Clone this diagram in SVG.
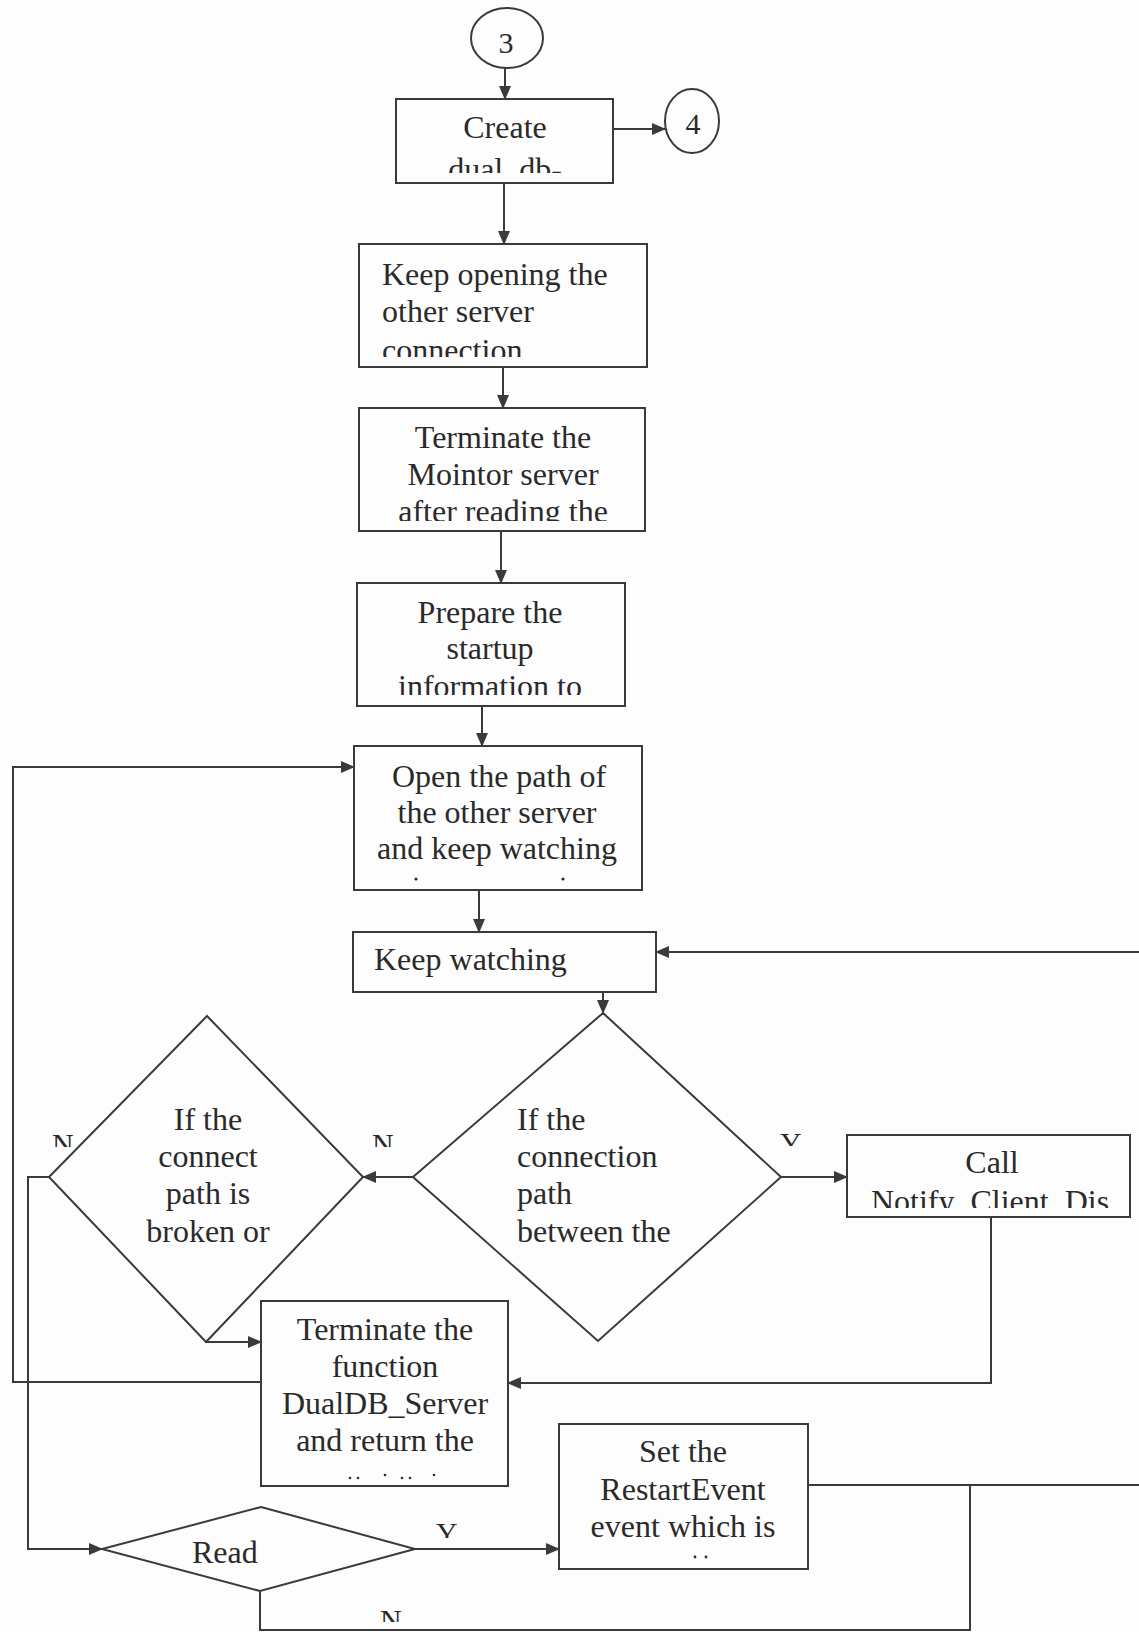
<svg xmlns="http://www.w3.org/2000/svg" width="1139" height="1632" viewBox="0 0 1139 1632">
  <style>
    .box { fill: none; stroke: #3a3a3a; stroke-width: 2; }
    .edge { fill: none; stroke: #3a3a3a; stroke-width: 2; }
    .t { font-family: "Liberation Serif", "Times New Roman", serif; font-size: 32px; fill: #2a2a2a; }
    .c { text-anchor: middle; }
    .lbl { font-family: "Liberation Serif", "Times New Roman", serif; font-size: 30px; fill: #2a2a2a; }
    .dot { fill: #2a2a2a; }
  </style>
  <defs>
    <marker id="arrow" markerUnits="userSpaceOnUse" markerWidth="14" markerHeight="12" viewBox="0 0 14 12" refX="13" refY="6" orient="auto">
      <path d="M0,0 L14,6 L0,12 z" fill="#3a3a3a"/>
    </marker>
    <!-- text areas inside each box (lines that overflow are cut off) -->
    <clipPath id="clipCreate"><rect x="397" y="100" width="215" height="73"/></clipPath>
    <clipPath id="clipOpening"><rect x="360" y="245" width="286" height="112"/></clipPath>
    <clipPath id="clipMonitor"><rect x="360" y="409" width="284" height="112"/></clipPath>
    <clipPath id="clipPrepare"><rect x="358" y="584" width="266" height="111"/></clipPath>
    <clipPath id="clipCall"><rect x="848" y="1136" width="281" height="72"/></clipPath>
    <clipPath id="clipLblN1"><rect x="40" y="1125" width="50" height="22"/></clipPath>
    <clipPath id="clipLblN2"><rect x="365" y="1125" width="40" height="22"/></clipPath>
    <clipPath id="clipLblY1"><rect x="775" y="1125" width="40" height="21"/></clipPath>
    <clipPath id="clipLblY2"><rect x="430" y="1515" width="40" height="23"/></clipPath>
    <clipPath id="clipLblN3"><rect x="372" y="1600" width="40" height="22"/></clipPath>
  </defs>

  <rect x="0" y="0" width="1139" height="1632" fill="#fdfdfd"/>

  <!-- connectors -->
  <g id="connectors">
    <line class="edge" x1="505" y1="68" x2="505" y2="99" marker-end="url(#arrow)"/>
    <line class="edge" x1="613" y1="129" x2="665" y2="129" marker-end="url(#arrow)"/>
    <line class="edge" x1="504" y1="183" x2="504" y2="244" marker-end="url(#arrow)"/>
    <line class="edge" x1="503" y1="367" x2="503" y2="408" marker-end="url(#arrow)"/>
    <line class="edge" x1="501" y1="531" x2="501" y2="583" marker-end="url(#arrow)"/>
    <line class="edge" x1="482" y1="706" x2="482" y2="746" marker-end="url(#arrow)"/>
    <line class="edge" x1="479" y1="890" x2="479" y2="932" marker-end="url(#arrow)"/>
    <line class="edge" x1="603" y1="992" x2="603" y2="1013" marker-end="url(#arrow)"/>
    <line class="edge" x1="413" y1="1177" x2="363" y2="1177" marker-end="url(#arrow)"/>
    <line class="edge" x1="781" y1="1177" x2="847" y2="1177" marker-end="url(#arrow)"/>
    <polyline class="edge" points="991,1217 991,1383 508,1383" marker-end="url(#arrow)"/>
    <line class="edge" x1="206" y1="1342" x2="261" y2="1342" marker-end="url(#arrow)"/>
    <polyline class="edge" points="261,1382 13,1382 13,767 354,767" marker-end="url(#arrow)"/>
    <polyline class="edge" points="49,1177 28,1177 28,1549 102,1549" marker-end="url(#arrow)"/>
    <line class="edge" x1="415" y1="1549" x2="559" y2="1549" marker-end="url(#arrow)"/>
    <polyline class="edge" points="260,1591 260,1630 970,1630 970,1485"/>
    <line class="edge" x1="808" y1="1485" x2="1139" y2="1485"/>
    <line class="edge" x1="1139" y1="952" x2="656" y2="952" marker-end="url(#arrow)"/>
    <!-- branch labels (lower half hidden) -->
    <text class="lbl" x="52" y="1154" clip-path="url(#clipLblN1)">N</text>
    <text class="lbl" x="372" y="1154" clip-path="url(#clipLblN2)">N</text>
    <text class="lbl" x="780" y="1153" clip-path="url(#clipLblY1)">Y</text>
    <text class="lbl" x="436" y="1543" clip-path="url(#clipLblY2)">Y</text>
    <text class="lbl" x="380" y="1630" clip-path="url(#clipLblN3)">N</text>
  </g>

  <!-- off-page connector 3 -->
  <g id="conn3">
    <ellipse class="box" cx="507" cy="38" rx="36" ry="30"/>
    <text class="t c" x="506" y="53" style="font-size:30px">3</text>
  </g>

  <!-- off-page connector 4 -->
  <g id="conn4">
    <ellipse class="box" cx="692" cy="121" rx="27" ry="32"/>
    <text class="t c" x="693" y="134" style="font-size:30px">4</text>
  </g>

  <g id="create">
    <rect class="box" x="396" y="99" width="217" height="84"/>
    <g clip-path="url(#clipCreate)">
      <text class="t c" x="505" y="138">Create</text>
      <text class="t c" x="505" y="180">dual_db-</text>
    </g>
  </g>

  <g id="keepOpening">
    <rect class="box" x="359" y="244" width="288" height="123"/>
    <g clip-path="url(#clipOpening)">
      <text class="t" x="382" y="285">Keep opening the</text>
      <text class="t" x="382" y="322">other server</text>
      <text class="t" x="382" y="361">connection</text>
    </g>
  </g>

  <g id="terminateMonitor">
    <rect class="box" x="359" y="408" width="286" height="123"/>
    <g clip-path="url(#clipMonitor)">
      <text class="t c" x="503" y="448">Terminate the</text>
      <text class="t c" x="503" y="485">Mointor server</text>
      <text class="t c" x="503" y="522">after reading the</text>
    </g>
  </g>

  <g id="prepare">
    <rect class="box" x="357" y="583" width="268" height="123"/>
    <g clip-path="url(#clipPrepare)">
      <text class="t c" x="490" y="623">Prepare the</text>
      <text class="t c" x="490" y="659">startup</text>
      <text class="t c" x="490" y="697">information to</text>
    </g>
  </g>

  <g id="openPath">
    <rect class="box" x="354" y="746" width="288" height="144"/>
    <text class="t c" x="499" y="787">Open the path of</text>
    <text class="t c" x="497" y="823">the other server</text>
    <text class="t c" x="497" y="859">and keep watching</text>
    <circle class="dot" cx="416" cy="879" r="1.6"/>
    <circle class="dot" cx="563" cy="879" r="1.6"/>
  </g>

  <g id="keepWatching">
    <rect class="box" x="353" y="932" width="303" height="60"/>
    <text class="t" x="374" y="970">Keep watching</text>
  </g>

  <g id="decisionConnection">
    <polygon class="box" points="603,1013 781,1177 598,1341 413,1177"/>
    <text class="t" x="517" y="1130">If the</text>
    <text class="t" x="517" y="1167">connection</text>
    <text class="t" x="517" y="1204">path</text>
    <text class="t" x="517" y="1242">between the</text>
  </g>

  <g id="decisionBroken">
    <polygon class="box" points="207,1016 363,1177 206,1342 49,1177"/>
    <text class="t c" x="208" y="1130">If the</text>
    <text class="t c" x="208" y="1167">connect</text>
    <text class="t c" x="208" y="1204">path is</text>
    <text class="t c" x="208" y="1242">broken or</text>
  </g>

  <g id="callNotify">
    <rect class="box" x="847" y="1135" width="283" height="82"/>
    <g clip-path="url(#clipCall)">
      <text class="t c" x="992" y="1173">Call</text>
      <text class="t c" x="990" y="1212">Notify_Client_Dis</text>
    </g>
  </g>

  <g id="terminateFunction">
    <rect class="box" x="261" y="1301" width="247" height="185"/>
    <text class="t c" x="385" y="1340">Terminate the</text>
    <text class="t c" x="385" y="1377">function</text>
    <text class="t c" x="385" y="1414">DualDB_Server</text>
    <text class="t c" x="385" y="1451">and return the</text>
    <circle class="dot" cx="350" cy="1478" r="1.3"/>
    <circle class="dot" cx="358" cy="1478" r="1.3"/>
    <circle class="dot" cx="385" cy="1475" r="1.3"/>
    <circle class="dot" cx="402" cy="1478" r="1.3"/>
    <circle class="dot" cx="410" cy="1478" r="1.3"/>
    <circle class="dot" cx="434" cy="1475" r="1.3"/>
  </g>

  <g id="decisionRead">
    <polygon class="box" points="261,1507 415,1549 260,1591 102,1549"/>
    <text class="t" x="192" y="1563">Read</text>
  </g>

  <g id="setRestart">
    <rect class="box" x="559" y="1424" width="249" height="145"/>
    <text class="t c" x="683" y="1462">Set the</text>
    <text class="t c" x="683" y="1500">RestartEvent</text>
    <text class="t c" x="683" y="1537">event which is</text>
    <circle class="dot" cx="695" cy="1557" r="1.4"/>
    <circle class="dot" cx="706" cy="1557" r="1.4"/>
  </g>
</svg>
